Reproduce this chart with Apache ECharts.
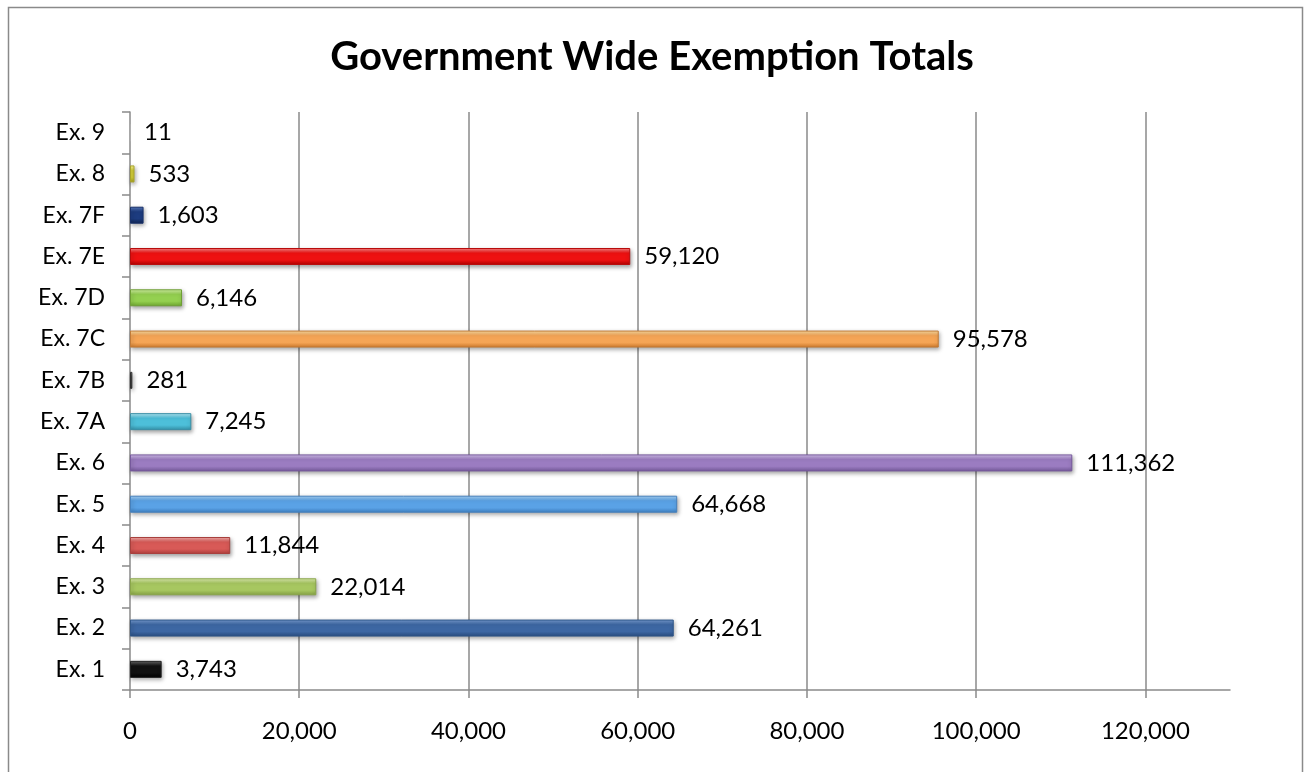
<!DOCTYPE html>
<html>
<head>
<meta charset="utf-8">
<script src="https://cdn.jsdelivr.net/npm/echarts@6/dist/echarts.min.js"></script>
<style>
html,body{margin:0;padding:0;background:#fff;}
#chart{width:1304px;height:772px;}
</style>
</head>
<body>
<div id="chart"></div>
<script>
const categories = ['Ex. 1','Ex. 2','Ex. 3','Ex. 4','Ex. 5','Ex. 6','Ex. 7A','Ex. 7B','Ex. 7C','Ex. 7D','Ex. 7E','Ex. 7F','Ex. 8','Ex. 9'];
const values = [3743, 64261, 22014, 11844, 64668, 111362, 7245, 281, 95578, 6146, 59120, 1603, 533, 11];
// [light top, base, dark bottom, border]
const barColors = [
  ['#6a6a6a','#111111','#000000','#222222'],
  ['#7aa0d6','#3d67a3','#2a4d80','#2f5688'],
  ['#e2f2b4','#a7c760','#86a344','#8aa64a'],
  ['#f8b2b0','#d85a57','#b03e3b','#a8403d'],
  ['#aad6fb','#5aa2e6','#3f82c4','#4681bd'],
  ['#d8c4f0','#9b7cc1','#75599a','#76599c'],
  ['#b8eefa','#4dbfd9','#3592aa','#3a8fa6'],
  ['#8a8a8a','#404040','#202020','#303030'],
  ['#ffe2a6','#f5a556','#d07b2c','#c07a38'],
  ['#d8f7aa','#94d050','#6ea830','#6f9e36'],
  ['#ff8c8c','#ee1111','#b00000','#b80c0c'],
  ['#5a7dc2','#1d3c80','#0f2452','#18306a'],
  ['#fbf79a','#d8d33a','#aaa51e','#a8a328'],
  ['#ffffff','#ffffff','#ffffff','#ffffff']
];
const xTicks = [0, 20000, 40000, 60000, 80000, 100000, 120000];
const xMax = 130000;

function fmt(v){ return String(v).replace(/\B(?=(\d{3})+(?!\d))/g, ','); }

const chart = echarts.init(document.getElementById('chart'), null, {renderer:'canvas'});
const data = values.map((v,i) => {
  const c = barColors[i];
  const tiny = v < 100;
  return {
    value: v,
    itemStyle: {
      color: new echarts.graphic.LinearGradient(0,0,0,1,[
        {offset:0, color:c[0]},
        {offset:0.3, color:c[1]},
        {offset:0.7, color:c[1]},
        {offset:1, color:c[2]}
      ]),
      borderColor: c[3],
      borderWidth: tiny ? 0 : 1,
      shadowColor: tiny ? 'rgba(0,0,0,0)' : 'rgba(0,0,0,0.35)',
      shadowBlur: 4,
      shadowOffsetX: 1,
      shadowOffsetY: 2
    }
  };
});

chart.setOption({
  animation: false,
  backgroundColor: '#ffffff',
  title: {
    text: 'Government Wide Exemption Totals',
    left: 'center',
    top: 32,
    textStyle: {fontFamily: 'Lato', fontWeight: 'bold', fontSize: 40, color: '#000'}
  },
  graphic: [{
    type: 'rect',
    shape: {x: 8.5, y: 7.5, width: 1294, height: 800},
    style: {fill: 'none', stroke: '#8a8a8a', lineWidth: 1.5},
    silent: true
  }],
  grid: {left: 130, right: 74, top: 112, bottom: 82, containLabel: false},
  xAxis: {
    type: 'value',
    min: xTicks[0],
    max: xMax,
    interval: xTicks[1] - xTicks[0],
    axisLine: {show: true, lineStyle: {color: '#8a8a8a', width: 1.5}},
    axisTick: {show: true, length: 8, lineStyle: {color: '#8a8a8a', width: 1.5}},
    splitLine: {show: true, showMinLine: false, showMaxLine: false, lineStyle: {color: '#8a8a8a', width: 1.5}},
    axisLabel: {
      showMaxLabel: false,
      margin: 29,
      fontFamily: 'Lato', fontSize: 24, color: '#000',
      formatter: v => xTicks.indexOf(v) >= 0 ? fmt(v) : ''
    }
  },
  yAxis: {
    type: 'category',
    data: categories,
    axisLine: {show: true, lineStyle: {color: '#8a8a8a', width: 1.5}},
    axisTick: {show: true, length: 8, interval: 0, lineStyle: {color: '#8a8a8a', width: 1.5}},
    axisLabel: {margin: 25, fontFamily: 'Lato', fontSize: 23, color: '#000'},
    splitLine: {show: false}
  },
  series: [{
    type: 'bar',
    data: data,
    barWidth: 17,
    label: {
      show: true,
      position: 'right',
      distance: 14,
      fontFamily: 'Lato', fontSize: 24, color: '#000',
      formatter: p => fmt(p.value)
    }
  }]
});
</script>
</body>
</html>
